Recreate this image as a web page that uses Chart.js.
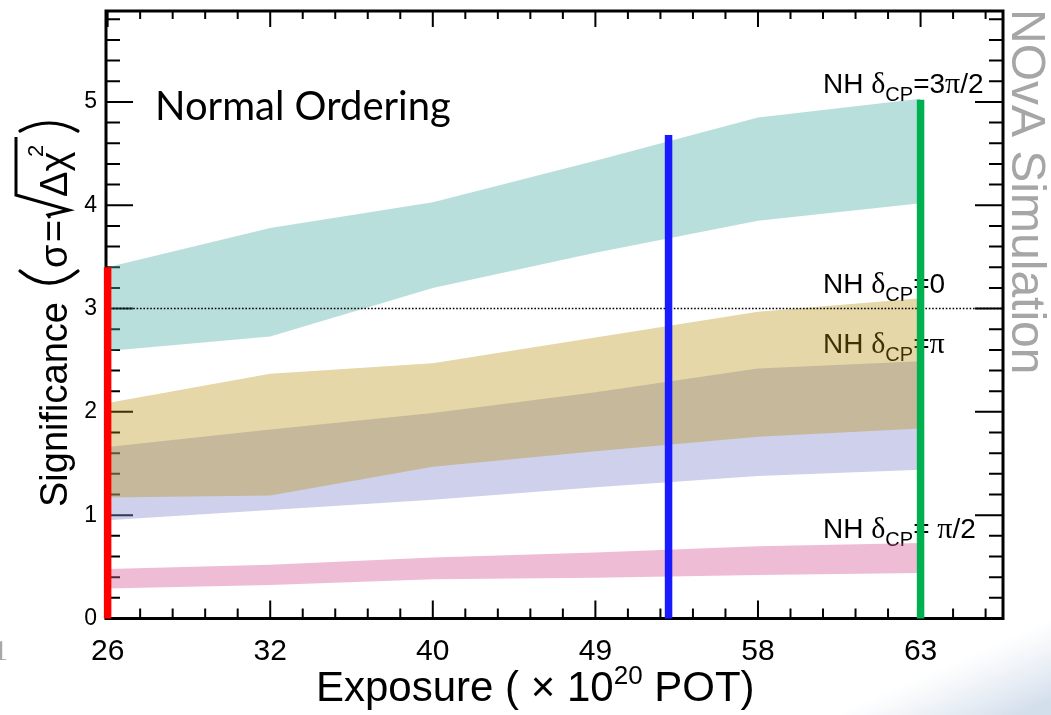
<!DOCTYPE html>
<html>
<head>
<meta charset="utf-8">
<title>NOvA significance vs exposure</title>
<script src="https://cdn.jsdelivr.net/npm/chart.js@4.4.1/dist/chart.umd.min.js"></script>
<style>
  html, body { margin: 0; padding: 0; background: #fff; }
  canvas { display: block; }
</style>
</head>
<body>
<canvas id="chart" width="1051" height="715"></canvas>
<script>
// Exposure steps (x 10^20 POT), placed at evenly spaced positions
const exposureLabels = ['26', '32', '40', '49', '58', '63'];
const exposureIndex = [0, 1, 2, 3, 4, 5];

// Significance bands for each true delta_CP (normal hierarchy)
const band3Pi2Upper = [3.40, 3.78, 4.03, 4.43, 4.85, 5.03];
const band3Pi2Lower = [2.59, 2.73, 3.20, 3.54, 3.85, 4.02];
const band0Upper    = [2.085, 2.37, 2.47, 2.72, 2.97, 3.10];
const band0Lower    = [1.17, 1.19, 1.47, 1.62, 1.76, 1.84];
const bandPiUpper   = [1.66, 1.83, 1.99, 2.19, 2.42, 2.49];
const bandPiLower   = [0.95, 1.05, 1.15, 1.27, 1.38, 1.44];
const bandPi2Upper  = [0.48, 0.52, 0.59, 0.64, 0.70, 0.73];
const bandPi2Lower  = [0.29, 0.325, 0.38, 0.395, 0.42, 0.44];

// Vertical exposure markers (position on the exposure axis, height in sigma)
const markerPos    = [0, 3.45, 5];
const markerTop    = [3.40, 4.68, 5.02];
const markerColors = ['#ff0000', '#1a1aff', '#00b050'];

// 3 sigma reference line and axis settings
const threeSigma  = 3;
const yTickValues = [0, 1, 2, 3, 4, 5];
const xRange = [-0.01, 5.507];
const yRange = [0, 5.88];

const SANS  = "'Liberation Sans', Arial, Helvetica, sans-serif";
const SERIF = "'Liberation Serif', 'Times New Roman', serif";

const pts = arr => exposureIndex.map((x, i) => ({ x, y: arr[i] }));

function bandPair(upper, lower, color) {
  return [
    { data: pts(upper), fill: '+1', backgroundColor: color, borderColor: 'rgba(0,0,0,0)',
      borderWidth: 0, pointRadius: 0, tension: 0 },
    { data: pts(lower), fill: false, borderColor: 'rgba(0,0,0,0)',
      borderWidth: 0, pointRadius: 0, tension: 0 }
  ];
}

const markerSets = markerPos.map((x, i) => ({
  data: [{ x, y: 0 }, { x, y: markerTop[i] }],
  borderColor: markerColors[i], borderWidth: 7.5, pointRadius: 0,
  fill: false, clip: false, borderCapStyle: 'butt'
}));

const sigmaLine = {
  data: [{ x: xRange[0], y: threeSigma }, { x: xRange[1], y: threeSigma }],
  borderColor: '#000', borderWidth: 1.6, borderDash: [1.6, 1.8],
  pointRadius: 0, fill: false
};

// first dataset is painted last (on top)
const datasets = [
  ...markerSets,
  sigmaLine,
  ...bandPair(band0Upper, band0Lower, 'rgba(181,141,6,0.35)'),
  ...bandPair(bandPiUpper, bandPiLower, 'rgba(135,138,205,0.4)'),
  ...bandPair(band3Pi2Upper, band3Pi2Lower, 'rgba(80,175,170,0.4)'),
  ...bandPair(bandPi2Upper, bandPi2Lower, 'rgba(215,88,153,0.4)')
];

function drawRuns(ctx, x, y, runs) {
  let cx = x;
  for (const r of runs) {
    ctx.font = r.font;
    ctx.fillText(r.t, cx, y + (r.dy || 0));
    cx += ctx.measureText(r.t).width;
  }
  return cx;
}

function nhLabel(ctx, x, y, tail) {
  const runs = [
    { t: 'NH ', font: '28px ' + SANS },
    { t: 'δ', font: '30px ' + SERIF },
    { t: 'CP', font: '20px ' + SANS, dy: 8 }
  ];
  for (const t of tail) runs.push(t === 'π' ? { t, font: '30px ' + SERIF } : { t, font: '28px ' + SANS });
  drawRuns(ctx, x, y, runs);
}

function noScalePadding(s) {
  s.paddingTop = 0; s.paddingBottom = 0; s.paddingLeft = 0; s.paddingRight = 0;
}

const pagePlugin = {
  id: 'page',
  beforeDraw(chart) {
    const ctx = chart.ctx;
    ctx.save();
    ctx.fillStyle = '#fff';
    ctx.fillRect(0, 0, chart.width, chart.height);
    const g = ctx.createLinearGradient(930, 672, 960, 740);
    g.addColorStop(0, 'rgba(222,230,240,0)');
    g.addColorStop(1, 'rgba(212,223,236,1)');
    ctx.fillStyle = g;
    ctx.fillRect(700, 622, 351, 93);
    ctx.fillStyle = '#a8a8a8';
    ctx.font = '30px ' + SERIF;
    ctx.textBaseline = 'alphabetic';
    ctx.fillText('1', -7, 660);
    ctx.restore();
  },
  beforeDatasetsDraw(chart) {
    const ctx = chart.ctx, a = chart.chartArea;
    const xs = chart.scales.x, ys = chart.scales.y;
    ctx.save();
    // inward tick marks on all four sides
    ctx.strokeStyle = '#000';
    ctx.lineWidth = 2;
    ctx.beginPath();
    for (let k = 0; k * 0.2 <= xRange[1] + 1e-9; k++) {
      const v = k * 0.2, px = xs.getPixelForValue(v);
      const major = k % 5 === 0;
      ctx.moveTo(px, a.bottom); ctx.lineTo(px, a.bottom - (major ? 18 : 10));
      ctx.moveTo(px, a.top);    ctx.lineTo(px, a.top + (major ? 16 : 8));
    }
    for (let k = 0; k * 0.2 <= yRange[1] + 1e-9; k++) {
      const v = k * 0.2, py = ys.getPixelForValue(v);
      const major = k % 5 === 0;
      ctx.moveTo(a.left, py);  ctx.lineTo(a.left + (major ? 27 : 14), py);
      ctx.moveTo(a.right, py); ctx.lineTo(a.right - (major ? 28 : 14), py);
    }
    ctx.stroke();
    ctx.lineWidth = 3;
    ctx.strokeRect(a.left, a.top, a.right - a.left, a.bottom - a.top);

    // in-frame text
    ctx.fillStyle = '#000';
    ctx.textBaseline = 'alphabetic';
    ctx.textAlign = 'left';
    ctx.font = "40px Lato, 'Open Sans', sans-serif";
    ctx.fillText('Normal Ordering', 155, 120);
    nhLabel(ctx, 823, 92.5, ['=', '3', 'π', '/', '2']);
    nhLabel(ctx, 823, 293, ['=', '0']);
    nhLabel(ctx, 823, 353, ['=', 'π']);
    nhLabel(ctx, 823, 538, ['=', ' ', 'π', '/', '2']);
    ctx.restore();
  },
  afterDraw(chart) {
    const ctx = chart.ctx;
    ctx.save();
    ctx.fillStyle = '#000';
    ctx.strokeStyle = '#000';
    ctx.textBaseline = 'alphabetic';
    ctx.textAlign = 'left';

    // x-axis title
    drawRuns(ctx, 316, 701, [
      { t: 'Exposure ( \u00d7 10', font: '42px ' + SANS },
      { t: '20', font: '26px ' + SANS, dy: -17 },
      { t: ' POT)', font: '42px ' + SANS }
    ]);

    // y-axis title: Significance ( sigma = sqrt(delta chi^2) )
    ctx.save();
    ctx.translate(67, 507);
    ctx.rotate(-Math.PI / 2);
    ctx.font = '38px ' + SANS;
    ctx.fillText('Significance', 0, 0);
    ctx.lineWidth = 3.2;
    ctx.lineCap = 'round';
    ctx.beginPath();
    ctx.moveTo(236, -47); ctx.quadraticCurveTo(212, -18, 236, 11);
    ctx.stroke();
    ctx.font = '38px ' + SANS;
    ctx.fillText('σ', 239, 0);
    ctx.fillText('=', 265, 0);
    ctx.lineWidth = 3;
    ctx.lineCap = 'butt';
    ctx.lineJoin = 'miter';
    ctx.beginPath();
    ctx.moveTo(289, -17); ctx.lineTo(292, -19);
    ctx.lineTo(297, 2); ctx.lineTo(312, -51); ctx.lineTo(370, -51);
    ctx.stroke();
    ctx.fillText('Δχ', 310, 0);
    ctx.font = '22px ' + SANS;
    ctx.fillText('2', 350, -24);
    ctx.lineWidth = 3.2;
    ctx.lineCap = 'round';
    ctx.beginPath();
    ctx.moveTo(376, -47); ctx.quadraticCurveTo(392, -18, 376, 11);
    ctx.stroke();
    ctx.restore();

    // simulation tag on the right edge
    ctx.save();
    ctx.translate(1012, 9);
    ctx.rotate(Math.PI / 2);
    ctx.fillStyle = '#a6a6a6';
    ctx.font = '48px ' + SANS;
    ctx.textBaseline = 'alphabetic';
    ctx.fillText('NOvA Simulation', 0, 0);
    ctx.restore();
    ctx.restore();
  }
};

new Chart(document.getElementById('chart'), {
  type: 'line',
  data: { datasets },
  options: {
    responsive: false,
    animation: false,
    devicePixelRatio: 1,
    layout: { padding: { top: 11, right: 48, left: 0, bottom: 0 } },
    plugins: { legend: { display: false }, tooltip: { enabled: false }, title: { display: false } },
    scales: {
      x: {
        type: 'linear', min: xRange[0], max: xRange[1],
        grid: { display: false, drawTicks: false }, border: { display: false },
        ticks: {
          font: { family: SANS, size: 30 }, color: '#000', padding: 15,
          maxRotation: 0, autoSkip: false,
          callback: v => exposureLabels[v] ?? ''
        },
        afterBuildTicks: axis => { axis.ticks = exposureIndex.map(v => ({ value: v })); },
        afterFit: s => { s.height = 96.5; noScalePadding(s); }
      },
      y: {
        type: 'linear', min: yRange[0], max: yRange[1],
        grid: { display: false, drawTicks: false }, border: { display: false },
        ticks: { font: { family: SANS, size: 23 }, color: '#000', padding: 9 },
        afterBuildTicks: axis => { axis.ticks = yTickValues.map(v => ({ value: v })); },
        afterFit: s => { s.width = 106; noScalePadding(s); }
      }
    }
  },
  plugins: [pagePlugin]
});
</script>
</body>
</html>
